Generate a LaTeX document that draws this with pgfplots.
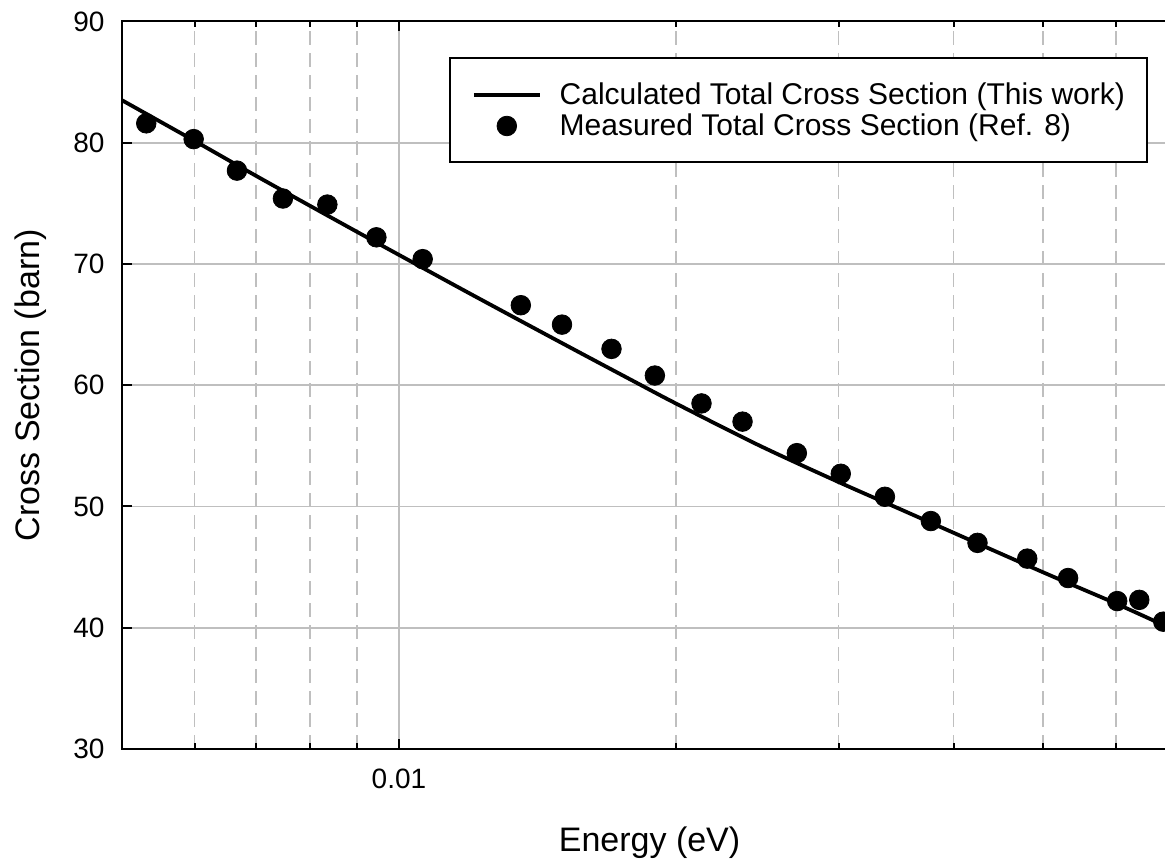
\documentclass[border=0pt]{standalone}
\usepackage{fontspec}
\setmainfont{Liberation Sans}
\usepackage{pgfplots}
\pgfplotsset{compat=1.18}
\pgfplotsset{
  lineleg/.style={legend image code/.code={\draw[##1] (0pt,0pt) -- (33pt,0pt);}},
  markleg/.style={legend image code/.code={\draw[mark repeat=2,mark phase=2,##1] plot coordinates {(0pt,0pt)(16.5pt,0pt)(33pt,0pt)};}},
}
\begin{document}
\begin{tikzpicture}
\begin{axis}[
  at={(0pt,0pt)}, anchor=south west,
  scale only axis,
  width=527.9pt, height=363.75pt,
  xmode=log,
  xmin=0.005, xmax=0.07,
  ymin=30, ymax=90,
  ytick={30,40,50,60,70,80,90},
  xtick={0.01},
  xticklabels={0.01},
  minor xtick={0.006,0.007,0.008,0.009,0.02,0.03,0.04,0.05,0.06},
  xmajorgrids, xminorgrids, ymajorgrids,
  major grid style={draw=black!25, line width=0.8pt},
  minor grid style={draw=black!25, line width=0.8pt, dash pattern=on 7pt off 4pt},
  tick align=inside,
  major tick length=5pt, minor tick length=3pt,
  tick style={black, line width=1pt},
  axis line style={line width=1pt},
  /pgf/number format/assume math mode=true,
  ticklabel style={font=\fontsize{14}{16}\selectfont},
  xticklabel style={inner sep=0pt, anchor=north, yshift=-10pt},
  yticklabel style={inner sep=0pt, anchor=east, xshift=-8.35pt},
  xlabel={Energy (eV)}, ylabel={Cross Section (barn)},
  label style={font=\fontsize{17}{20}\selectfont},
  xlabel style={at={(axis description cs:0.5,-0.1412)}, anchor=base},
  ylabel style={at={(axis description cs:-0.0777,0.5)}, anchor=base},
  legend style={at={(0.972,0.9508)}, anchor=north east, draw=black, line width=1pt,
    font=\fontsize{15}{17}\selectfont, inner xsep=11pt, inner ysep=12pt,
    row sep=3.3pt, column sep=9pt, nodes={inner sep=0pt}},
  legend cell align=left,
]
\addplot[black, line width=1.9pt, mark=none, smooth, lineleg] coordinates {
(0.005,83.52) (0.006,80.15) (0.007,77.26) (0.008,74.81) (0.009,72.66) (0.01,70.75)
(0.012,67.47) (0.015,63.51) (0.018,60.31) (0.02,58.48) (0.02455,55.07) (0.03,52.02)
(0.035,49.78) (0.04,47.83) (0.05,44.58) (0.06,42.0) (0.07,39.69)
};
\addlegendentry{Calculated Total Cross Section (This work)}
\addplot[only marks, mark=*, mark size=4.9pt, mark options={fill=black, draw=black, line width=0.4pt}, markleg] coordinates {
(0.005317,81.6) (0.005986,80.3) (0.006670,77.7) (0.007482,75.4) (0.008361,74.9)
(0.009451,72.2) (0.01061,70.4) (0.01356,66.6) (0.01503,65.0) (0.01701,63.0)
(0.01896,60.8) (0.02130,58.5) (0.02360,57.0) (0.02703,54.4) (0.03017,52.7)
(0.03369,50.8) (0.03779,48.8) (0.04246,47.0) (0.04808,45.7) (0.05325,44.1)
(0.06020,42.2) (0.06362,42.3) (0.06755,40.5)
};
\addlegendentry{Measured Total Cross Section (Ref. 8)}
\end{axis}
\pgfresetboundingbox
\useasboundingbox (-60.85pt,-55.5pt) rectangle (521.65pt,374.5pt);
\end{tikzpicture}
\end{document}
